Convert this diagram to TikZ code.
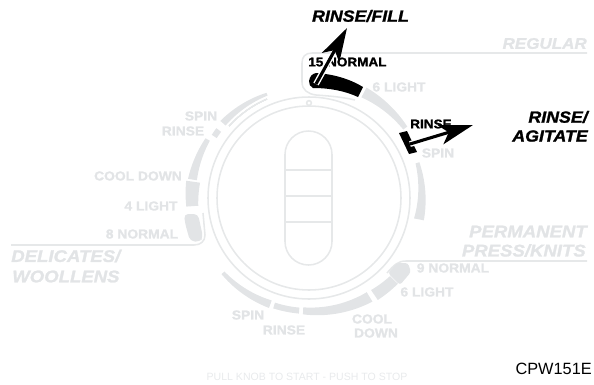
\documentclass[tikz,border=0pt]{standalone}
\usepackage{fontspec}
\setmainfont{Liberation Sans}
\newfontfamily\heavyfont[FakeBold=1.4,FakeStretch=1.07]{Liberation Sans Bold}
\newfontfamily\heavyital[FakeBold=1.4,FakeStretch=1.1]{Liberation Sans Bold Italic}
\usetikzlibrary{arrows.meta}
\definecolor{dialgray}{HTML}{E2E4E6}
\definecolor{ringgray}{HTML}{E6E8E9}
\definecolor{stopgray}{HTML}{E8EAEC}
\tikzset{
  ring/.style={draw=ringgray,line width=1.1pt},
  dialtext/.style={text=dialgray,inner sep=0pt,font=\heavyfont\fontsize{9.2}{10}\selectfont},
  groupname/.style={text=dialgray,inner sep=0pt,font=\heavyital\fontsize{12}{13}\selectfont},
  activetext/.style={text=black,inner sep=0pt,font=\heavyfont\fontsize{9}{10}\selectfont},
  calltext/.style={text=black,inner sep=0pt,font=\heavyital\fontsize{11.5}{12}\selectfont},
  callhalo/.style={draw=white,line width=4.2pt},
  callarrow/.style={draw=black,line width=2.2pt,-{Stealth[length=24pt,width=14pt,inset=6pt]}},
}
% band along the dial: angles, then radius and width at both ends
\newcommand{\bandseg}[7][dialgray]{%
  \fill[#1] plot[domain=0:1,samples=20,variable=\t]
    ({309+(#4+(#6-#4)*\t+(#5+(#7-#5)*\t)/2)*cos(#2+(#3-#2)*\t)},
     {198-(#4+(#6-#4)*\t+(#5+(#7-#5)*\t)/2)*sin(#2+(#3-#2)*\t)})
    -- plot[domain=1:0,samples=20,variable=\t]
    ({309+(#4+(#6-#4)*\t-(#5+(#7-#5)*\t)/2)*cos(#2+(#3-#2)*\t)},
     {198-(#4+(#6-#4)*\t-(#5+(#7-#5)*\t)/2)*sin(#2+(#3-#2)*\t)}) -- cycle;}
\begin{document}
\begin{tikzpicture}[x=0.025cm,y=-0.025cm]
  \useasboundingbox (0,0) rectangle (594,384);

  % rings and knob
  \draw[ring] (309,198) circle (92);
  \draw[ring] (309,198) circle (101);
  \draw[ring,fill=white] (309,103) circle (2.4);
  \draw[ring] (285,154.5) arc[start angle=180,end angle=360,radius=23.5] -- (332,241.5)
    arc[start angle=0,end angle=180,radius=23.5] -- cycle;
  \draw[ring] (285,170) -- (332,170);
  \draw[ring] (285,196) -- (332,196);
  \draw[ring] (285,222) -- (332,222);

  % group frames
  \draw[ring] (587,53) -- (312,53) .. controls (305,53) and (302,57) .. (302,63)
    -- (302,82) .. controls (302,90) and (308,94) .. (316,95) .. controls (330,96) and (342,97) .. (355,100);
  \draw[ring] (11,245) -- (194,245) .. controls (201,245) and (205,241) .. (205,235) -- (203,213);
  \draw[ring] (587,261) -- (406,261) .. controls (398,261) and (394,265) .. (387,273);

  % bands
  \foreach \a/\b/\ra/\wa/\rb/\wb in {
      62.5/36/119/11/119/5, 18/-11/114/4/112/10,
      -93/-58.5/113/7/116/11, -56/-44/117/12/118/11,
      -108/-95/113/6/113/6, -139/-110/114/4/113/8,
      172/184/117/14/117/12,
      150/171/117/5/118/9, 143/147/113/6/113/6, 112/139/112/3/114/7}
    \bandseg{\a}{\b}{\ra}{\wa}{\rb}{\wb}
  \draw[ring,line width=0.7pt] (309,198) ++(-113:107.5) coordinate (tl) arc[start angle=-113,end angle=-138,radius=107.5];
  \fill[dialgray,rounded corners=2] (388,273) -- (397,263) -- (408,263) -- (411,272) -- (400,285) -- cycle;
  \fill[dialgray,rounded corners=3] (184,214) -- (198,214) -- (203,237) -- (200,242) -- (190,241) -- (185,223) -- cycle;

  % active bands
  \fill[black] (309,81) .. controls (310,76) and (312,74) .. (316,73) .. controls (333,74) and (350,79) .. (363,87)
    -- (358,97) .. controls (345,91) and (330,88) .. (313,88) .. controls (310,87) and (309,84) .. (309,81) -- cycle;
  \fill[black] (399,133) -- (407,131) -- (417,152) -- (409,154) -- cycle;

  % dial labels
  \foreach \name/\px/\py/\txt in {
      lightsix/399/87/6 LIGHT, spinone/438/153/SPIN,
      spintwo/201/116/SPIN, rinsetwo/183/131/RINSE, cooltwo/138/176/COOL DOWN,
      lightfour/151/206/4 LIGHT, normaleight/142/234/8 NORMAL,
      normalnine/453/268/9 NORMAL, lightsixb/427/292/6 LIGHT,
      coolthree/372/319/COOL, downthree/376/333/DOWN,
      rinsethree/284/330/RINSE, spinthree/248/315/SPIN}
    \node[dialtext] (\name) at (\px,\py) {\txt};

  % group names
  \node[groupname,anchor=east,font=\heavyital\fontsize{11}{12}\selectfont] (regular) at (587,43.5) {REGULAR};
  \node[groupname,anchor=west] (delicates) at (11,256) {DELICATES/};
  \node[groupname,anchor=west] (woollens) at (12,276.5) {WOOLLENS};
  \node[groupname,anchor=east] (permanent) at (587,231.5) {PERMANENT};
  \node[groupname,anchor=east] (press) at (586,250.5) {PRESS/KNITS};

  % active labels
  \node[activetext,anchor=west] (normalfifteen) at (308,62) {15 NORMAL};
  \node[activetext,anchor=west] (rinseone) at (410,124) {RINSE};

  % callouts
  \node[calltext] (rinsefill) at (360.5,16) {RINSE/FILL};
  \node[calltext,anchor=east] (rinseag) at (588,117) {RINSE/};
  \node[calltext,anchor=east] (agitate) at (588,136) {AGITATE};
  \coordinate (fillstart) at (316,84);
  \coordinate (filltip) at (347,28);
  \coordinate (agitstart) at (410,144);
  \coordinate (agittip) at (473,125);
  \draw[callhalo] (fillstart) -- (332,55);
  \draw[callarrow] (fillstart) -- (filltip);
  \draw[callhalo] (agitstart) -- (446,134);
  \draw[callarrow] (agitstart) -- (agittip);

  % bottom line
  \node[text=stopgray,inner sep=0pt,font=\fontsize{7.5}{8}\selectfont] (pullknob) at (307,376.5) {PULL KNOB TO START - PUSH TO STOP};
  \node[text=black,inner sep=0pt,anchor=east,font=\fontsize{11.6}{12}\selectfont] (partcode) at (592,369) {CPW151E};
\end{tikzpicture}
\end{document}
